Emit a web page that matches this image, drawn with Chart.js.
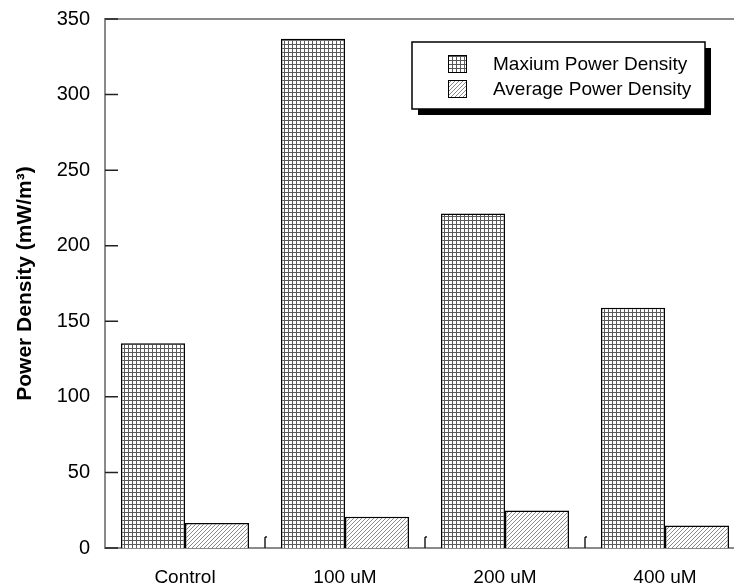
<!DOCTYPE html>
<html>
<head>
<meta charset="utf-8">
<script src="https://cdn.jsdelivr.net/npm/chart.js@4"></script>
<style>
html,body{margin:0;padding:0;background:#fff;overflow:hidden;}
canvas{display:block;}
</style>
</head>
<body>
<canvas id="c" width="750" height="587" style="width:750px;height:587px"></canvas>
<script>
const categories = ['Control', '100 uM', '200 uM', '400 uM'];
const maxPower = [135.5, 337, 221.3, 159];
const avgPower = [16.6, 20.6, 24.8, 14.9];
const seriesLabels = ['Maxium Power Density', 'Average Power Density'];
const yTicks = [0, 50, 100, 150, 200, 250, 300, 350];

const FONT = "'Liberation Sans', Arial, sans-serif";

function gridPattern() {
  const c = document.createElement('canvas');
  c.width = 4; c.height = 4;
  const g = c.getContext('2d');
  g.fillStyle = '#fff'; g.fillRect(0, 0, 4, 4);
  g.fillStyle = '#5a5a5a';
  g.fillRect(0, 0, 4, 1);
  g.fillRect(0, 0, 1, 4);
  return g.createPattern(c, 'repeat');
}
function hatchPattern() {
  const c = document.createElement('canvas');
  c.width = 4; c.height = 4;
  const g = c.getContext('2d');
  g.fillStyle = '#fff'; g.fillRect(0, 0, 4, 4);
  g.fillStyle = '#8a8a8a';
  for (let i = 0; i < 4; i++) g.fillRect(i, 3 - i, 1, 1);
  return g.createPattern(c, 'repeat');
}
const ctx0 = document.getElementById('c').getContext('2d');
const patMax = gridPattern();
const patAvg = hatchPattern();

const deco = {
  id: 'deco',
  afterDatasetsDraw(chart) {
    const {ctx, chartArea: a, scales: {x, y}} = chart;
    ctx.save();
    // top frame line
    ctx.strokeStyle = '#8a8a8a';
    ctx.lineWidth = 2;
    ctx.beginPath();
    ctx.moveTo(a.left, a.top); ctx.lineTo(a.right, a.top);
    ctx.stroke();
    // y tick marks (inside)
    ctx.strokeStyle = '#222';
    ctx.lineWidth = 1.5;
    ctx.beginPath();
    y.ticks.forEach(t => {
      const py = y.getPixelForValue(t.value);
      ctx.moveTo(a.left, py); ctx.lineTo(a.left + 13, py);
    });
    // x tick marks between categories
    for (let i = 0; i < categories.length - 1; i++) {
      const px = (x.getPixelForValue(i) + x.getPixelForValue(i + 1)) / 2;
      ctx.moveTo(px, a.bottom); ctx.lineTo(px, a.bottom - 11);
      ctx.moveTo(px, a.bottom - 11); ctx.lineTo(px + 2, a.bottom - 11);
    }
    ctx.stroke();
    ctx.restore();
  },
  afterDraw(chart) {
    const {ctx} = chart;
    const L = {x: 412, y: 42, w: 293, h: 67};
    ctx.save();
    ctx.fillStyle = '#000';
    ctx.fillRect(L.x + 6, L.y + 6, L.w, L.h);
    ctx.fillStyle = '#fff';
    ctx.fillRect(L.x, L.y, L.w, L.h);
    ctx.strokeStyle = '#000';
    ctx.lineWidth = 1.5;
    ctx.strokeRect(L.x, L.y, L.w, L.h);
    const rows = [64, 89];
    chart.data.datasets.forEach((ds, i) => {
      const cy = rows[i];
      ctx.fillStyle = ds.backgroundColor;
      ctx.fillRect(448, cy - 9, 19, 18);
      ctx.lineWidth = 1;
      ctx.strokeStyle = '#000';
      ctx.strokeRect(448.5, cy - 8.5, 18, 17);
      ctx.fillStyle = '#000';
      ctx.font = '19px ' + FONT;
      ctx.textBaseline = 'middle';
      ctx.textAlign = 'left';
      ctx.fillText(ds.label, 493, cy + 1);
    });
    ctx.restore();
  }
};

new Chart(ctx0, {
  type: 'bar',
  data: {
    labels: categories,
    datasets: [
      {label: seriesLabels[0], data: maxPower, backgroundColor: patMax, borderColor: '#000', borderWidth: 1.5},
      {label: seriesLabels[1], data: avgPower, backgroundColor: patAvg, borderColor: '#000', borderWidth: 1.5}
    ]
  },
  options: {
    responsive: false,
    animation: false,
    devicePixelRatio: 1,
    layout: {padding: {top: 18, right: 5, left: 0, bottom: 0}},
    datasets: {bar: {categoryPercentage: 0.8, barPercentage: 1.0}},
    plugins: {legend: {display: false}, tooltip: {enabled: false}, title: {display: false}},
    scales: {
      x: {
        grid: {display: false},
        border: {display: true, color: '#8a8a8a', width: 2},
        ticks: {color: '#000', font: {family: FONT, size: 19}, padding: 10, maxRotation: 0},
        afterFit(s) { s.height = 39; }
      },
      y: {
        min: 0, max: 350,
        afterBuildTicks(s) { s.ticks = yTicks.map(v => ({value: v})); },
        grid: {display: false},
        border: {display: true, color: '#8a8a8a', width: 2},
        ticks: {color: '#000', font: {family: FONT, size: 20}, padding: 7},
        title: {display: true, text: 'Power Density (mW/m³)', color: '#000',
                font: {family: FONT, size: 21, weight: 'bold'}, padding: {top: 13, bottom: 0}},
        afterFit(s) { s.width = 105; }
      }
    }
  },
  plugins: [deco]
});
</script>
</body>
</html>
